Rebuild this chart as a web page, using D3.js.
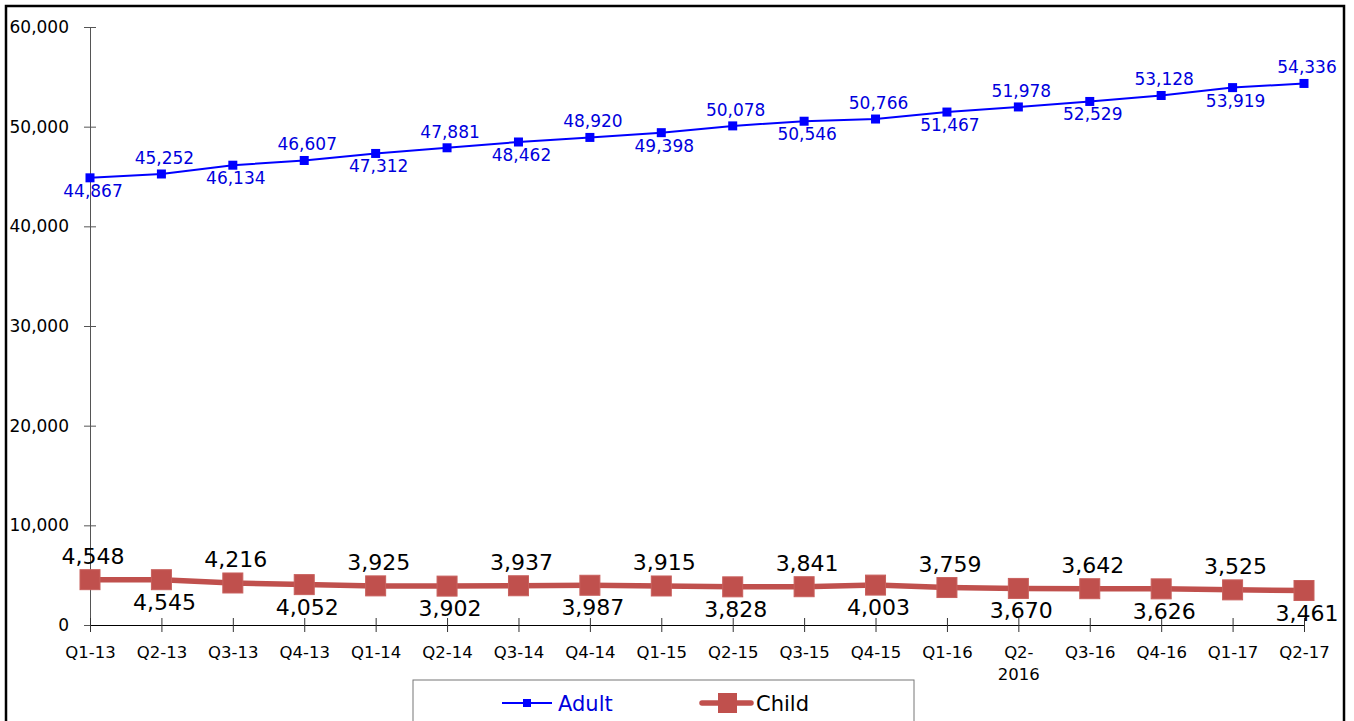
<!DOCTYPE html>
<html>
<head>
<meta charset="utf-8">
<script src="https://cdn.jsdelivr.net/npm/d3@7"></script>
<style>
  body { margin: 0; background: #fff; }
  svg text { font-family: "DejaVu Sans", Verdana, sans-serif; }
</style>
</head>
<body>
<svg id="chart"></svg>
<script>
const quarters = ["Q1-13", "Q2-13", "Q3-13", "Q4-13", "Q1-14", "Q2-14", "Q3-14", "Q4-14", "Q1-15",
                  "Q2-15", "Q3-15", "Q4-15", "Q1-16", "Q2-2016", "Q3-16", "Q4-16", "Q1-17", "Q2-17"];
const adult = [44867, 45252, 46134, 46607, 47312, 47881, 48462, 48920, 49398,
               50078, 50546, 50766, 51467, 51978, 52529, 53128, 53919, 54336];
const child = [4548, 4545, 4216, 4052, 3925, 3902, 3937, 3987, 3915,
               3828, 3841, 4003, 3759, 3670, 3642, 3626, 3525, 3461];
const yTicks = [0, 10000, 20000, 30000, 40000, 50000, 60000];

const width = 1354, height = 721;
const svg = d3.select("#chart").attr("width", width).attr("height", height);

// outer frame
svg.append("rect")
   .attr("x", 6).attr("y", 6)
   .attr("width", 1338).attr("height", 730)
   .attr("fill", "none").attr("stroke", "#000").attr("stroke-width", 2.5);

const x = d3.scalePoint().domain(quarters).range([90, 1304]);
const y = d3.scaleLinear().domain([0, 60000]).range([625, 27]);
const fmt = d3.format(",");

// Y axis
const yAxis = svg.append("g")
   .attr("transform", "translate(90,0)")
   .call(d3.axisLeft(y).tickValues(yTicks).tickFormat(fmt).tickSizeInner(6).tickSizeOuter(0).tickPadding(15));
yAxis.select(".domain").attr("stroke", "#555");
yAxis.selectAll(".tick line").attr("x2", 6).attr("x1", -6).attr("stroke", "#555");
yAxis.selectAll(".tick text").style("font-size", "17px").attr("fill", "#000");

// X axis
const xAxis = svg.append("g")
   .attr("transform", "translate(0,625)")
   .call(d3.axisBottom(x).tickSizeInner(7).tickSizeOuter(0).tickPadding(14));
xAxis.select(".domain").attr("stroke", "#000");
xAxis.selectAll(".tick line").attr("y1", -7).attr("y2", 7).attr("stroke", "#333");
xAxis.selectAll(".tick text").style("font-size", "16.5px").attr("fill", "#000")
   .each(function(d) {
     if (d === "Q2-2016") {
       const t = d3.select(this).text(null);
       t.append("tspan").attr("x", 0).attr("dy", "0.71em").text("Q2-");
       t.append("tspan").attr("x", 0).attr("dy", "1.35em").text("2016");
       t.attr("dy", null);
     }
   });

const line = d3.line().x((d, i) => x(quarters[i])).y(d => y(d));

// Child series
svg.append("path").datum(child)
   .attr("d", line).attr("fill", "none")
   .attr("stroke", "#C0504D").attr("stroke-width", 5.5);
svg.selectAll(".child-pt").data(child).enter().append("rect")
   .attr("x", (d, i) => x(quarters[i]) - 10).attr("y", d => y(d) - 10)
   .attr("width", 20).attr("height", 20)
   .attr("fill", "#C0504D").attr("stroke", "#C8605D").attr("stroke-width", 1);
svg.selectAll(".child-lbl").data(child).enter().append("text")
   .attr("x", (d, i) => x(quarters[i]) + 3)
   .attr("y", (d, i) => y(d) + (i % 2 === 0 ? -16 : 30))
   .attr("text-anchor", "middle")
   .style("font-size", "22px").attr("fill", "#000")
   .text(d => fmt(d));

// Adult series
svg.append("path").datum(adult)
   .attr("d", line).attr("fill", "none")
   .attr("stroke", "#0000FF").attr("stroke-width", 2);
svg.selectAll(".adult-pt").data(adult).enter().append("rect")
   .attr("x", (d, i) => x(quarters[i]) - 4.5).attr("y", d => y(d) - 4.5)
   .attr("width", 9).attr("height", 9).attr("fill", "#0000FF");
svg.selectAll(".adult-lbl").data(adult).enter().append("text")
   .attr("x", (d, i) => x(quarters[i]) + 3)
   .attr("y", (d, i) => y(d) + (i % 2 === 0 ? 19 : -10))
   .attr("text-anchor", "middle")
   .style("font-size", "17px").attr("fill", "#0000DD")
   .text(d => fmt(d));

// Legend
const legend = svg.append("g");
legend.append("rect")
   .attr("x", 413).attr("y", 680).attr("width", 501).attr("height", 60)
   .attr("fill", "#fff").attr("stroke", "#777").attr("stroke-width", 1);
legend.append("line").attr("x1", 502).attr("x2", 552).attr("y1", 703).attr("y2", 703)
   .attr("stroke", "#0000FF").attr("stroke-width", 2);
legend.append("rect").attr("x", 523).attr("y", 699).attr("width", 8).attr("height", 8).attr("fill", "#0000FF");
legend.append("text").attr("x", 558).attr("y", 711).style("font-size", "21px")
   .attr("fill", "#0000DD").text("Adult");
legend.append("line").attr("x1", 702).attr("x2", 751).attr("y1", 703).attr("y2", 703)
   .attr("stroke", "#C0504D").attr("stroke-width", 5.5).attr("stroke-linecap", "round");
legend.append("rect").attr("x", 718).attr("y", 693).attr("width", 19).attr("height", 20).attr("fill", "#C0504D");
legend.append("text").attr("x", 756).attr("y", 711).style("font-size", "21px")
   .attr("fill", "#000").text("Child");
</script>
</body>
</html>
